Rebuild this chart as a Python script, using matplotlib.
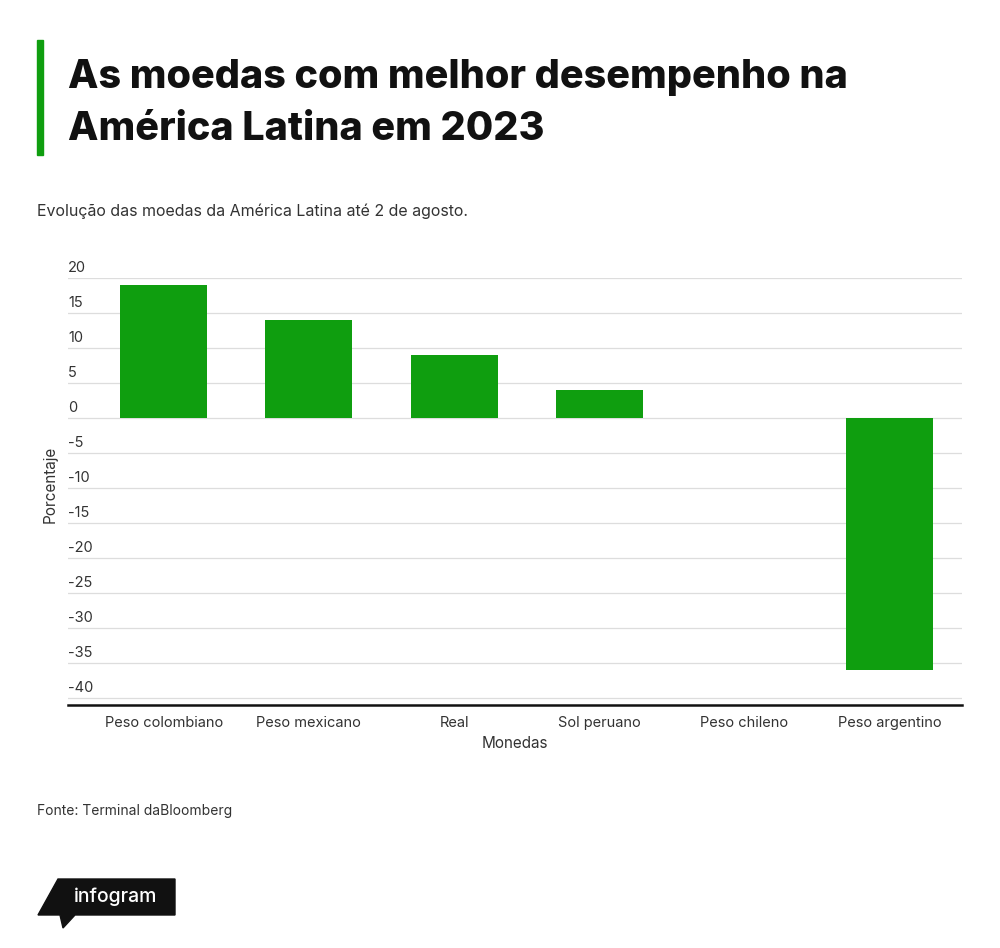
import matplotlib.pyplot as plt
import matplotlib.transforms as mtransforms
from matplotlib.patches import Polygon, Rectangle

currencies = ['Peso colombiano', 'Peso mexicano', 'Real', 'Sol peruano', 'Peso chileno', 'Peso argentino']
change_pct = [19, 14, 9, 4, 0, -36]
yticks = [20, 15, 10, 5, 0, -5, -10, -15, -20, -25, -30, -35, -40]

green = '#0f9e0f'
plt.rcParams['font.family'] = ['Inter', 'DejaVu Sans']

fig = plt.figure(figsize=(10, 9.48), dpi=100)
fig.patch.set_facecolor('white')

# header
fig.patches.append(Rectangle((0.037, 1 - 155 / 948), 0.006, 115 / 948, transform=fig.transFigure,
                             color=green, zorder=3))
fig.text(0.068, 1 - 78 / 948, 'As moedas com melhor desempenho na', fontsize=28.5, fontweight='heavy',
         va='center', color='#111111')
fig.text(0.068, 1 - 130 / 948, 'América Latina em 2023', fontsize=28.5, fontweight='heavy',
         va='center', color='#111111')
fig.text(0.037, 1 - 211 / 948, 'Evolução das moedas da América Latina até 2 de agosto.', fontsize=11.5,
         va='center', color='#333333')

ax = fig.add_axes([0.068, 1 - 705 / 948, 0.894, 427 / 948])
x = range(len(currencies))
ax.bar(x, change_pct, width=0.6, color=green, zorder=3)
ax.set_xlim(-0.66, len(currencies) - 0.5)
ax.set_ylim(-41, 20)
ax.set_yticks(yticks)
ax.set_yticklabels([])
ax.tick_params(axis='y', length=0)
ax.tick_params(axis='x', length=0, labelsize=10.5, colors='#333333', pad=8)
ax.set_xticks(list(x))
ax.set_xticklabels(currencies)
ax.grid(axis='y', color='#dddddd', linewidth=0.9, zorder=0)
for s in ['top', 'right', 'left']:
    ax.spines[s].set_visible(False)
ax.spines['bottom'].set_linewidth(1.8)
ax.spines['bottom'].set_color('#111111')

trans = mtransforms.blended_transform_factory(ax.transAxes, ax.transData)
for v in yticks:
    ax.text(0.0, v + 0.4, str(v), transform=trans, fontsize=10.5, color='#333333', va='bottom', ha='left')

ax.set_xlabel('Monedas', fontsize=11, color='#333333', labelpad=4)
fig.text(0.05, 1 - 484 / 948, 'Porcentaje', rotation=90, fontsize=11, color='#333333', va='center', ha='center')

fig.text(0.037, 1 - 811 / 948, 'Fonte: Terminal daBloomberg', fontsize=10, color='#333333', va='center')

# logo
logo_px = [(38, 915), (58, 879), (175, 879), (175, 915), (75, 915), (63, 928), (60, 915)]
pts = [(px / 1000, 1 - py / 948) for px, py in logo_px]
fig.patches.append(Polygon(pts, closed=True, color='#111111', transform=fig.transFigure))
fig.text(0.074, 1 - 897 / 948, 'infogram', fontsize=14, color='white', va='center', fontweight='medium')

fig.savefig('out.png', dpi=100, facecolor='white')
